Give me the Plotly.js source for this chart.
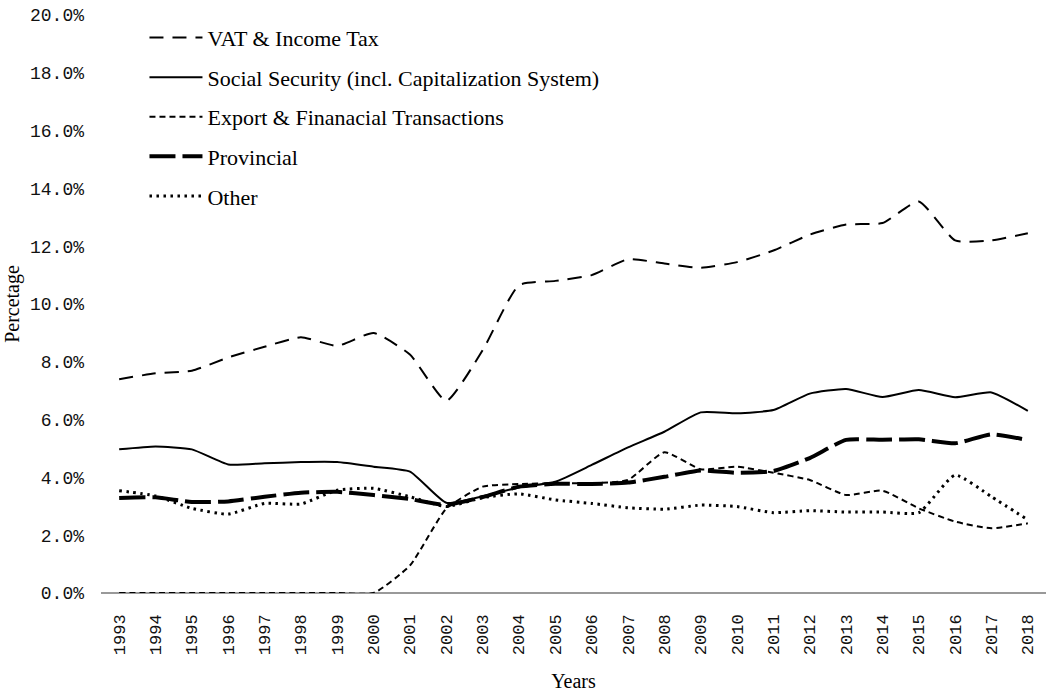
<!DOCTYPE html>
<html>
<head>
<meta charset="utf-8">
<script src="https://cdn.plot.ly/plotly-3.0.1.min.js"></script>
<style>html,body{margin:0;padding:0;background:#fff;}#chart{width:1046px;height:692px;}</style>
</head>
<body>
<div id="chart"></div>
<script>
const years = ["1993","1994","1995","1996","1997","1998","1999","2000","2001","2002","2003","2004","2005","2006","2007","2008","2009","2010","2011","2012","2013","2014","2015","2016","2017","2018"];
const vatIncome = [7.40,7.60,7.69,8.15,8.52,8.85,8.55,9.00,8.25,6.65,8.40,10.65,10.80,11.00,11.55,11.40,11.25,11.45,11.85,12.40,12.75,12.80,13.55,12.20,12.20,12.45];
const socialSecurity = [4.97,5.07,4.97,4.45,4.49,4.53,4.53,4.37,4.20,3.12,3.35,3.65,3.85,4.43,5.04,5.58,6.25,6.22,6.33,6.90,7.06,6.78,7.02,6.77,6.94,6.30];
const exportFin = [0,0,0,0,0,0,0,0,0.95,2.92,3.68,3.77,3.80,3.80,3.91,4.87,4.28,4.37,4.16,3.91,3.39,3.54,2.93,2.47,2.24,2.41];
const provincial = [3.29,3.31,3.15,3.17,3.33,3.47,3.50,3.39,3.25,3.05,3.32,3.68,3.78,3.77,3.82,4.02,4.24,4.16,4.22,4.67,5.30,5.30,5.32,5.18,5.49,5.29];
const other = [3.54,3.36,2.93,2.73,3.10,3.08,3.56,3.62,3.33,2.99,3.30,3.43,3.22,3.10,2.95,2.90,3.04,2.99,2.78,2.85,2.80,2.80,2.78,4.08,3.33,2.53];
const seriesNames = ["VAT & Income Tax","Social Security (incl. Capitalization System)","Export & Finanacial Transactions","Provincial","Other"];

const pct = a => a.map(v => v / 100);
const styles = [
  {width: 2, dash: "14px,9px"},
  {width: 2, dash: "solid"},
  {width: 2, dash: "6px,4px"},
  {width: 4, dash: "26px,7px"},
  {width: 3, dash: "2.5px,4.5px"}
];
const dataSets = [vatIncome, socialSecurity, exportFin, provincial, other];
const traces = dataSets.map((d, i) => ({
  type: "scatter",
  mode: "lines",
  x: years,
  y: pct(d),
  name: seriesNames[i],
  legendgroup: "g" + i,
  line: {color: "#000", width: styles[i].width, dash: styles[i].dash, shape: "spline", smoothing: 0.5},
  hoverinfo: "x+y+name"
}));

const serif = "Liberation Serif, Times New Roman, serif";
const mono = "Liberation Mono, DejaVu Sans Mono, monospace";
const layout = {
  width: 1046, height: 692,
  margin: {l: 101, r: 0, t: 15, b: 99},
  paper_bgcolor: "#fff", plot_bgcolor: "#fff",
  showlegend: true,
  legend: {
    x: 0.046, y: 0.997, xanchor: "left", yanchor: "top",
    bgcolor: "rgba(0,0,0,0)",
    traceorder: "grouped", tracegroupgap: 8,
    itemwidth: 53,
    font: {family: serif, size: 22, color: "#000"}
  },
  xaxis: {
    type: "category",
    range: [-0.5, 25.5],
    tickangle: -90,
    ticks: "",
    showgrid: false,
    zeroline: false,
    showline: false,
    ticklabelstandoff: 17,
    tickfont: {family: mono, size: 17, color: "#111"},
    title: {text: "Years", font: {family: serif, size: 20, color: "#000"}, standoff: 22}
  },
  yaxis: {
    range: [0, 0.2],
    tickvals: [0,0.02,0.04,0.06,0.08,0.10,0.12,0.14,0.16,0.18,0.20],
    tickformat: ".1%",
    ticks: "",
    showgrid: false,
    zeroline: true,
    zerolinecolor: "#999",
    zerolinewidth: 2,
    showline: false,
    ticklabelstandoff: 16,
    tickfont: {family: mono, size: 18, color: "#111"},
    title: {text: "Percetage", font: {family: serif, size: 20, color: "#000"}, standoff: 4}
  }
};
Plotly.newPlot("chart", traces, layout, {displayModeBar: false, staticPlot: true});
</script>
</body>
</html>
